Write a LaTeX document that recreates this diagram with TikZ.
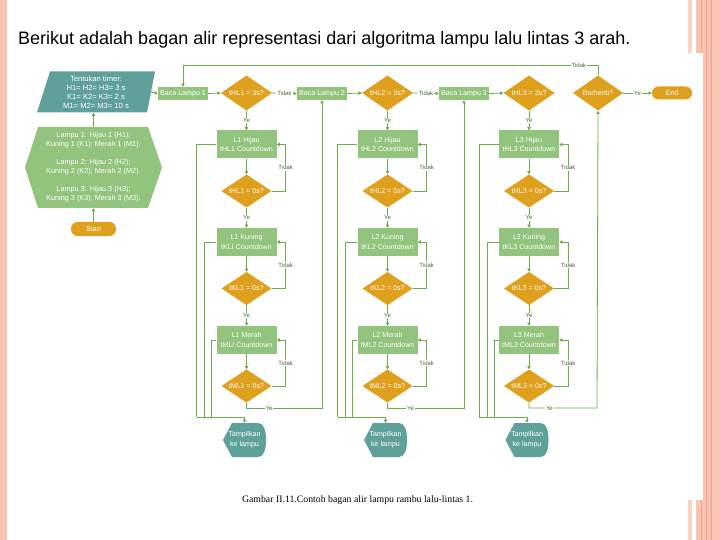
\documentclass[tikz,border=0pt]{standalone}
\usepackage{fontspec}
\setmainfont{Liberation Sans}
\newfontfamily\capfont{Liberation Serif}
\usetikzlibrary{arrows.meta,calc}

\definecolor{cGreen}{HTML}{93C47D}
\definecolor{cTeal}{HTML}{5FA19A}
\definecolor{cGold}{HTML}{DFA01D}
\definecolor{cLine}{HTML}{6FAA4C}
\definecolor{cLab}{HTML}{4F6540}
\definecolor{cPink}{HTML}{F9C4B2}
\definecolor{cPinkL}{HTML}{FBD3C5}
\definecolor{cPinkD}{HTML}{F0A68E}

\tikzset{
  ff/.style={font=\fontsize{7.1}{9.8}\selectfont, text=white, align=center, inner sep=0pt},
  boxg/.style={ff, rectangle, fill=cGreen, minimum width=60pt, minimum height=28pt},
  baca/.style={ff, rectangle, fill=cGreen, minimum width=50pt, minimum height=13pt},
  dia/.style={ff, rectangle, minimum width=50pt, minimum height=33pt,
    path picture={\fill[cGold] (path picture bounding box.north) -- (path picture bounding box.east)
      -- (path picture bounding box.south) -- (path picture bounding box.west) -- cycle;}},
  rnd/.style={ff, rectangle, fill=cGold, rounded corners=6.5pt, minimum width=45pt, minimum height=14pt},
  tamp/.style={ff, rectangle, minimum width=43pt, minimum height=34pt,
    path picture={\fill[cTeal] (path picture bounding box.west)
      -- ([xshift=9pt]path picture bounding box.north west)
      -- ([xshift=-8pt]path picture bounding box.north east)
      .. controls ([xshift=-2pt]path picture bounding box.north east) and ([yshift=9pt]path picture bounding box.east) .. (path picture bounding box.east)
      .. controls ([yshift=-9pt]path picture bounding box.east) and ([xshift=-2pt]path picture bounding box.south east) .. ([xshift=-8pt]path picture bounding box.south east)
      -- ([xshift=9pt]path picture bounding box.south west) -- cycle;}},
  hexa/.style={ff, font=\fontsize{7.3}{9}\selectfont, rectangle, minimum width=137pt, minimum height=81pt,
    path picture={\fill[cGreen] (path picture bounding box.west)
      -- ([xshift=13pt]path picture bounding box.north west)
      -- ([xshift=-14pt]path picture bounding box.north east)
      -- (path picture bounding box.east)
      -- ([xshift=-14pt]path picture bounding box.south east)
      -- ([xshift=13pt]path picture bounding box.south west) -- cycle;}},
  para/.style={ff, font=\fontsize{7.6}{9}\selectfont, rectangle, minimum width=118pt, minimum height=41pt,
    path picture={\fill[cTeal] ([xshift=13pt]path picture bounding box.north west)
      -- (path picture bounding box.north east)
      -- ([xshift=-8pt]path picture bounding box.south east)
      -- (path picture bounding box.south west) -- cycle;}},
  arr/.style={draw=cLine, line width=0.8pt, -{Triangle[length=3.2pt,width=3.4pt]}},
  ln/.style={draw=cLine, line width=0.8pt},
  lab/.style={font=\fontsize{6}{6}\selectfont, text=cLab, fill=white, inner sep=0.8pt}
}

\begin{document}
\begin{tikzpicture}[x=1pt,y=-1pt]
\useasboundingbox (0,0) rectangle (720,540);
\fill[white] (0,0) rectangle (720,540);
% decorations
\fill[cPink] (0,0) rectangle (7,540);
\fill[cPink] (703,0) rectangle (720,540);
\draw[cPinkD, line width=0.8pt] (706,0) -- (706,540);
\draw[cPinkD, line width=0.6pt] (711,0) -- (711,540);
\fill[cPinkL] (688,0) rectangle (692,53);
\fill[cPink] (696,0) rectangle (703,53);
\draw[cPinkD, line width=0.6pt] (701.5,0) -- (701.5,53);
\fill[cPinkL] (688,500) rectangle (692,540);
\fill[cPink] (696,500) rectangle (703,540);
\draw[cPinkD, line width=0.6pt] (701.5,500) -- (701.5,540);

% title and caption
\node[anchor=base west, font=\fontsize{18}{21}\selectfont, inner sep=0pt] (title) at (18,45)
  {Berikut adalah bagan alir representasi dari algoritma lampu lalu lintas 3 arah.};
\node[anchor=base, font=\capfont\fontsize{9.8}{11}\selectfont, inner sep=0pt] (cap) at (357.5,502)
  {Gambar II.11.Contoh bagan alir lampu rambu lalu-lintas 1.};

% left part
\node[rnd] (start) at (93.5,229) {Start};
\node[hexa] (hex) at (93.5,167.5) {Lampu 1: Hijau 1 (H1);\\Kuning 1 (K1); Merah 1 (M1).\\[9pt]Lampu 2: Hijau 2 (H2);\\Kuning 2 (K2); Merah 2 (M2).\\[9pt]Lampu 3: Hijau 3 (H3);\\Kuning 3 (K3); Merah 3 (M3).};
\node[para] (para) at (96,92) {Tentukan timer:\\H1= H2= H3= 3 s\\K1= K2= K3= 2 s\\M1= M2= M3= 10 s};

\node[dia, minimum width=50pt, minimum height=35pt] (bh) at (598,93) {Berhenti?};
\node[rnd, minimum width=40pt, minimum height=13pt] (end) at (672,93) {End};
\coordinate (top) at (183,65);

\foreach \i/\q/\cx/\bx/\nx in {1/I/246.5/183/322, 2/2/387.5/322/464, 3/3/529/464/597}{
  \node[baca] (b\i) at (\bx,93.5) {Baca Lampu \i};
  \node[dia, minimum width=51pt, minimum height=35pt] (d\i) at (\cx,93) {tHL\i{} = 3s?};
  \node[boxg] (h\i) at (\cx,144.5) {L\i{} Hijau\\tHL\i{} Countdown};
  \node[dia] (zh\i) at (\cx,191) {tHL\i{} = 0s?};
  \node[boxg] (k\i) at (\cx,242) {L\i{} Kuning\\tKL\q{} Countdown};
  \node[dia] (zk\i) at (\cx,288.5) {tKL\i{} = 0s?};
  \node[boxg] (m\i) at (\cx,340) {L\i{} Merah\\tML\q{} Countdown};
  \node[dia] (zm\i) at (\cx,386) {tML\i{} = 0s?};
  \node[tamp] (tp\i) at (\cx-2,440) {Tampilkan\\ke lampu};
  \coordinate (r\i) at (\nx,408);
  \coordinate (ja\i) at (\cx-50,417);
  \coordinate (jb\i) at (\cx-42,417);
  \coordinate (jc\i) at (\cx-35,417);
}

\foreach \i/\t in {1/b2, 2/b3, 3/bh}{
  \draw[arr] (b\i.east) -- (d\i.west);
  \draw[arr] (d\i.south) -- node[lab]{Ye} (h\i.north);
  \draw[arr] (h\i.south) -- (zh\i.north);
  \draw[arr] (zh\i.east) -- ++(14,0) |- node[lab,pos=0.25]{Tidak} (h\i.east);
  \draw[arr] (zh\i.south) -- node[lab]{Ye} (k\i.north);
  \draw[arr] (k\i.south) -- (zk\i.north);
  \draw[arr] (zk\i.east) -- ++(14,0) |- node[lab,pos=0.25]{Tidak} (k\i.east);
  \draw[arr] (zk\i.south) -- node[lab]{Ye} (m\i.north);
  \draw[arr] (m\i.south) -- (zm\i.north);
  \draw[arr] (zm\i.east) -- ++(14,0) |- node[lab,pos=0.25]{Tidak} (m\i.east);
  \draw[arr] (zm\i.south) |- node[lab,pos=0.65]{Ye} (r\i) -- (\t.south);
  \draw[ln] (h\i.west) -| (ja\i);
  \draw[ln] (k\i.west) -| (jb\i);
  \draw[ln] (m\i.west) -| (jc\i);
  \draw[arr] (ja\i) -| (tp\i.north);
}

\draw[arr] (start.north) -- (hex.south);
\draw[arr] (hex.north) -- (hex.north |- para.south);
\draw[arr] ([xshift=-4pt]para.east) -- (b1.west);
\draw[arr] (d1.east) -- node[lab]{Tidak} (b2.west);
\draw[arr] (d2.east) -- node[lab]{Tidak} (b3.west);
\draw[arr] (bh.east) -- node[lab]{Ye} (end.west);
\draw[arr] (bh.north) |- node[lab,pos=0.523]{Tidak} (top) -- (b1.north);
\end{tikzpicture}
\end{document}
